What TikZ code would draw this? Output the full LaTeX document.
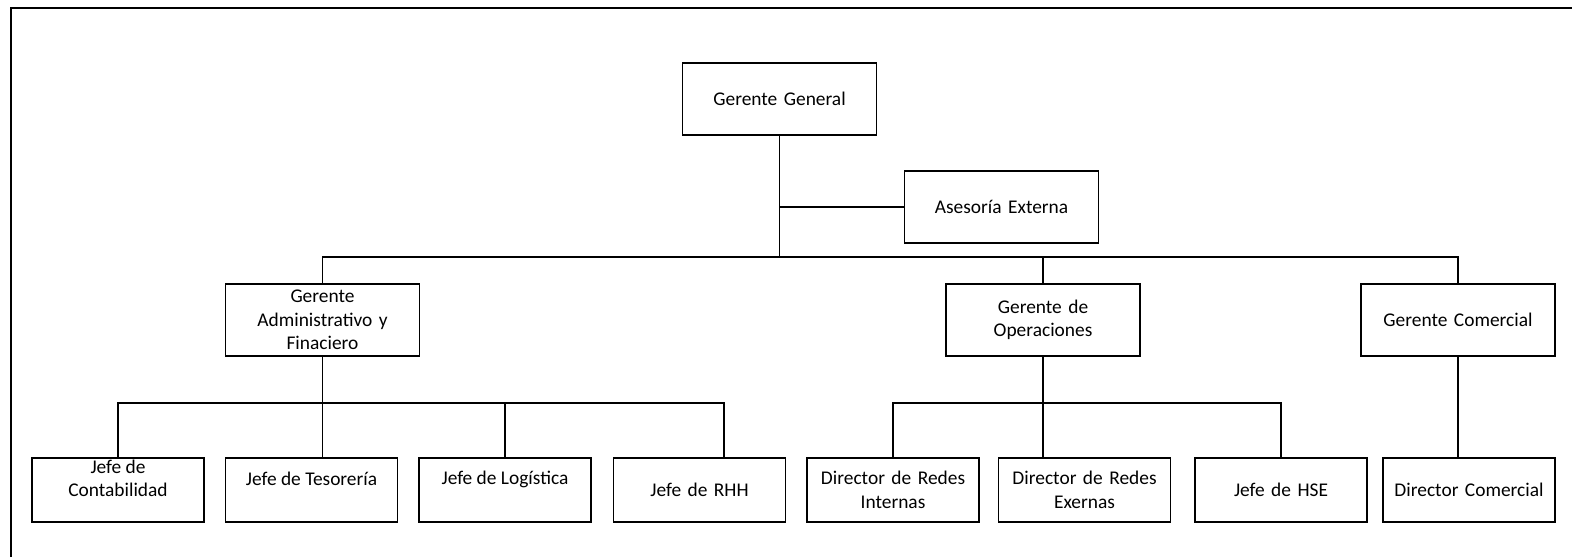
\documentclass[tikz,border=0pt]{standalone}
\usepackage{fontspec}
\setmainfont{Carlito}
\begin{document}
\begin{tikzpicture}[x=0.5pt,y=-0.5pt,
  txtfont/.style={font=\fontsize{9.7}{11.8}\selectfont},
  box/.style={draw, line width=0.7pt, inner sep=1pt, align=center, txtfont},
  topbox/.style={box, minimum width=97pt, minimum height=36pt, text width=92pt},
  lowbox/.style={box, minimum width=86pt, minimum height=32pt, text width=84pt},
  lbl/.style={txtfont, align=center, inner sep=0pt},
  link/.style={line width=0.7pt}]
\useasboundingbox (0,0) rectangle (1572,557);
\draw[link] (11,557) -- (11,8) -- (1572,8);

\node[topbox] (gg) at (779.5,99) {Gerente General};
\node[topbox] (ae) at (1001.5,207) {Asesoría Externa};
\node[topbox] (gaf) at (322.5,320) {Gerente\\Administrativo y\\Finaciero};
\node[topbox] (go) at (1043,320) {Gerente de\\Operaciones};
\node[topbox] (gc) at (1458,320) {Gerente Comercial};

\node[lowbox, label={[lbl,yshift=5.75pt]center:Jefe de\\Contabilidad}] (cont) at (118,490) {};
\node[lowbox, label={[lbl,yshift=5.5pt]center:Jefe de Tesorería}] (tes) at (311.5,490) {};
\node[lowbox, label={[lbl,yshift=5.5pt]center:Jefe de Logística}] (log) at (505,490) {};
\node[lowbox] (rhh) at (699.5,490) {Jefe de RHH};
\node[lowbox] (dri) at (893,490) {Director de Redes\\Internas};
\node[lowbox] (dre) at (1084.5,490) {Director de Redes\\Exernas};
\node[lowbox] (hse) at (1281,490) {Jefe de HSE};
\node[lowbox] (dc) at (1469,490) {Director Comercial};

\coordinate (bus) at (780,257);
\coordinate (sba) at (322.5,403);
\coordinate (rc) at (724,403);
\coordinate (sbo) at (1043,403);

\draw[link] (gg.south) -- (gg.south |- bus);
\draw[link] (ae.west) -- (ae.west -| gg.south);
\draw[link] (gaf.north) |- (bus) -| (gc.north);
\draw[link] (go.north) -- (go.north |- bus);
\draw[link] (gaf.south) -- (gaf.south |- tes.north);
\draw[link] (cont.north) |- (sba) -- (rc) -- (rc |- rhh.north);
\draw[link] (log.north) -- (log.north |- sba);
\draw[link] (go.south) -- (go.south |- dre.north);
\draw[link] (dri.north) |- (sbo) -| (hse.north);
\draw[link] (gc.south) -- (dc.north -| gc.south);
\end{tikzpicture}
\end{document}
